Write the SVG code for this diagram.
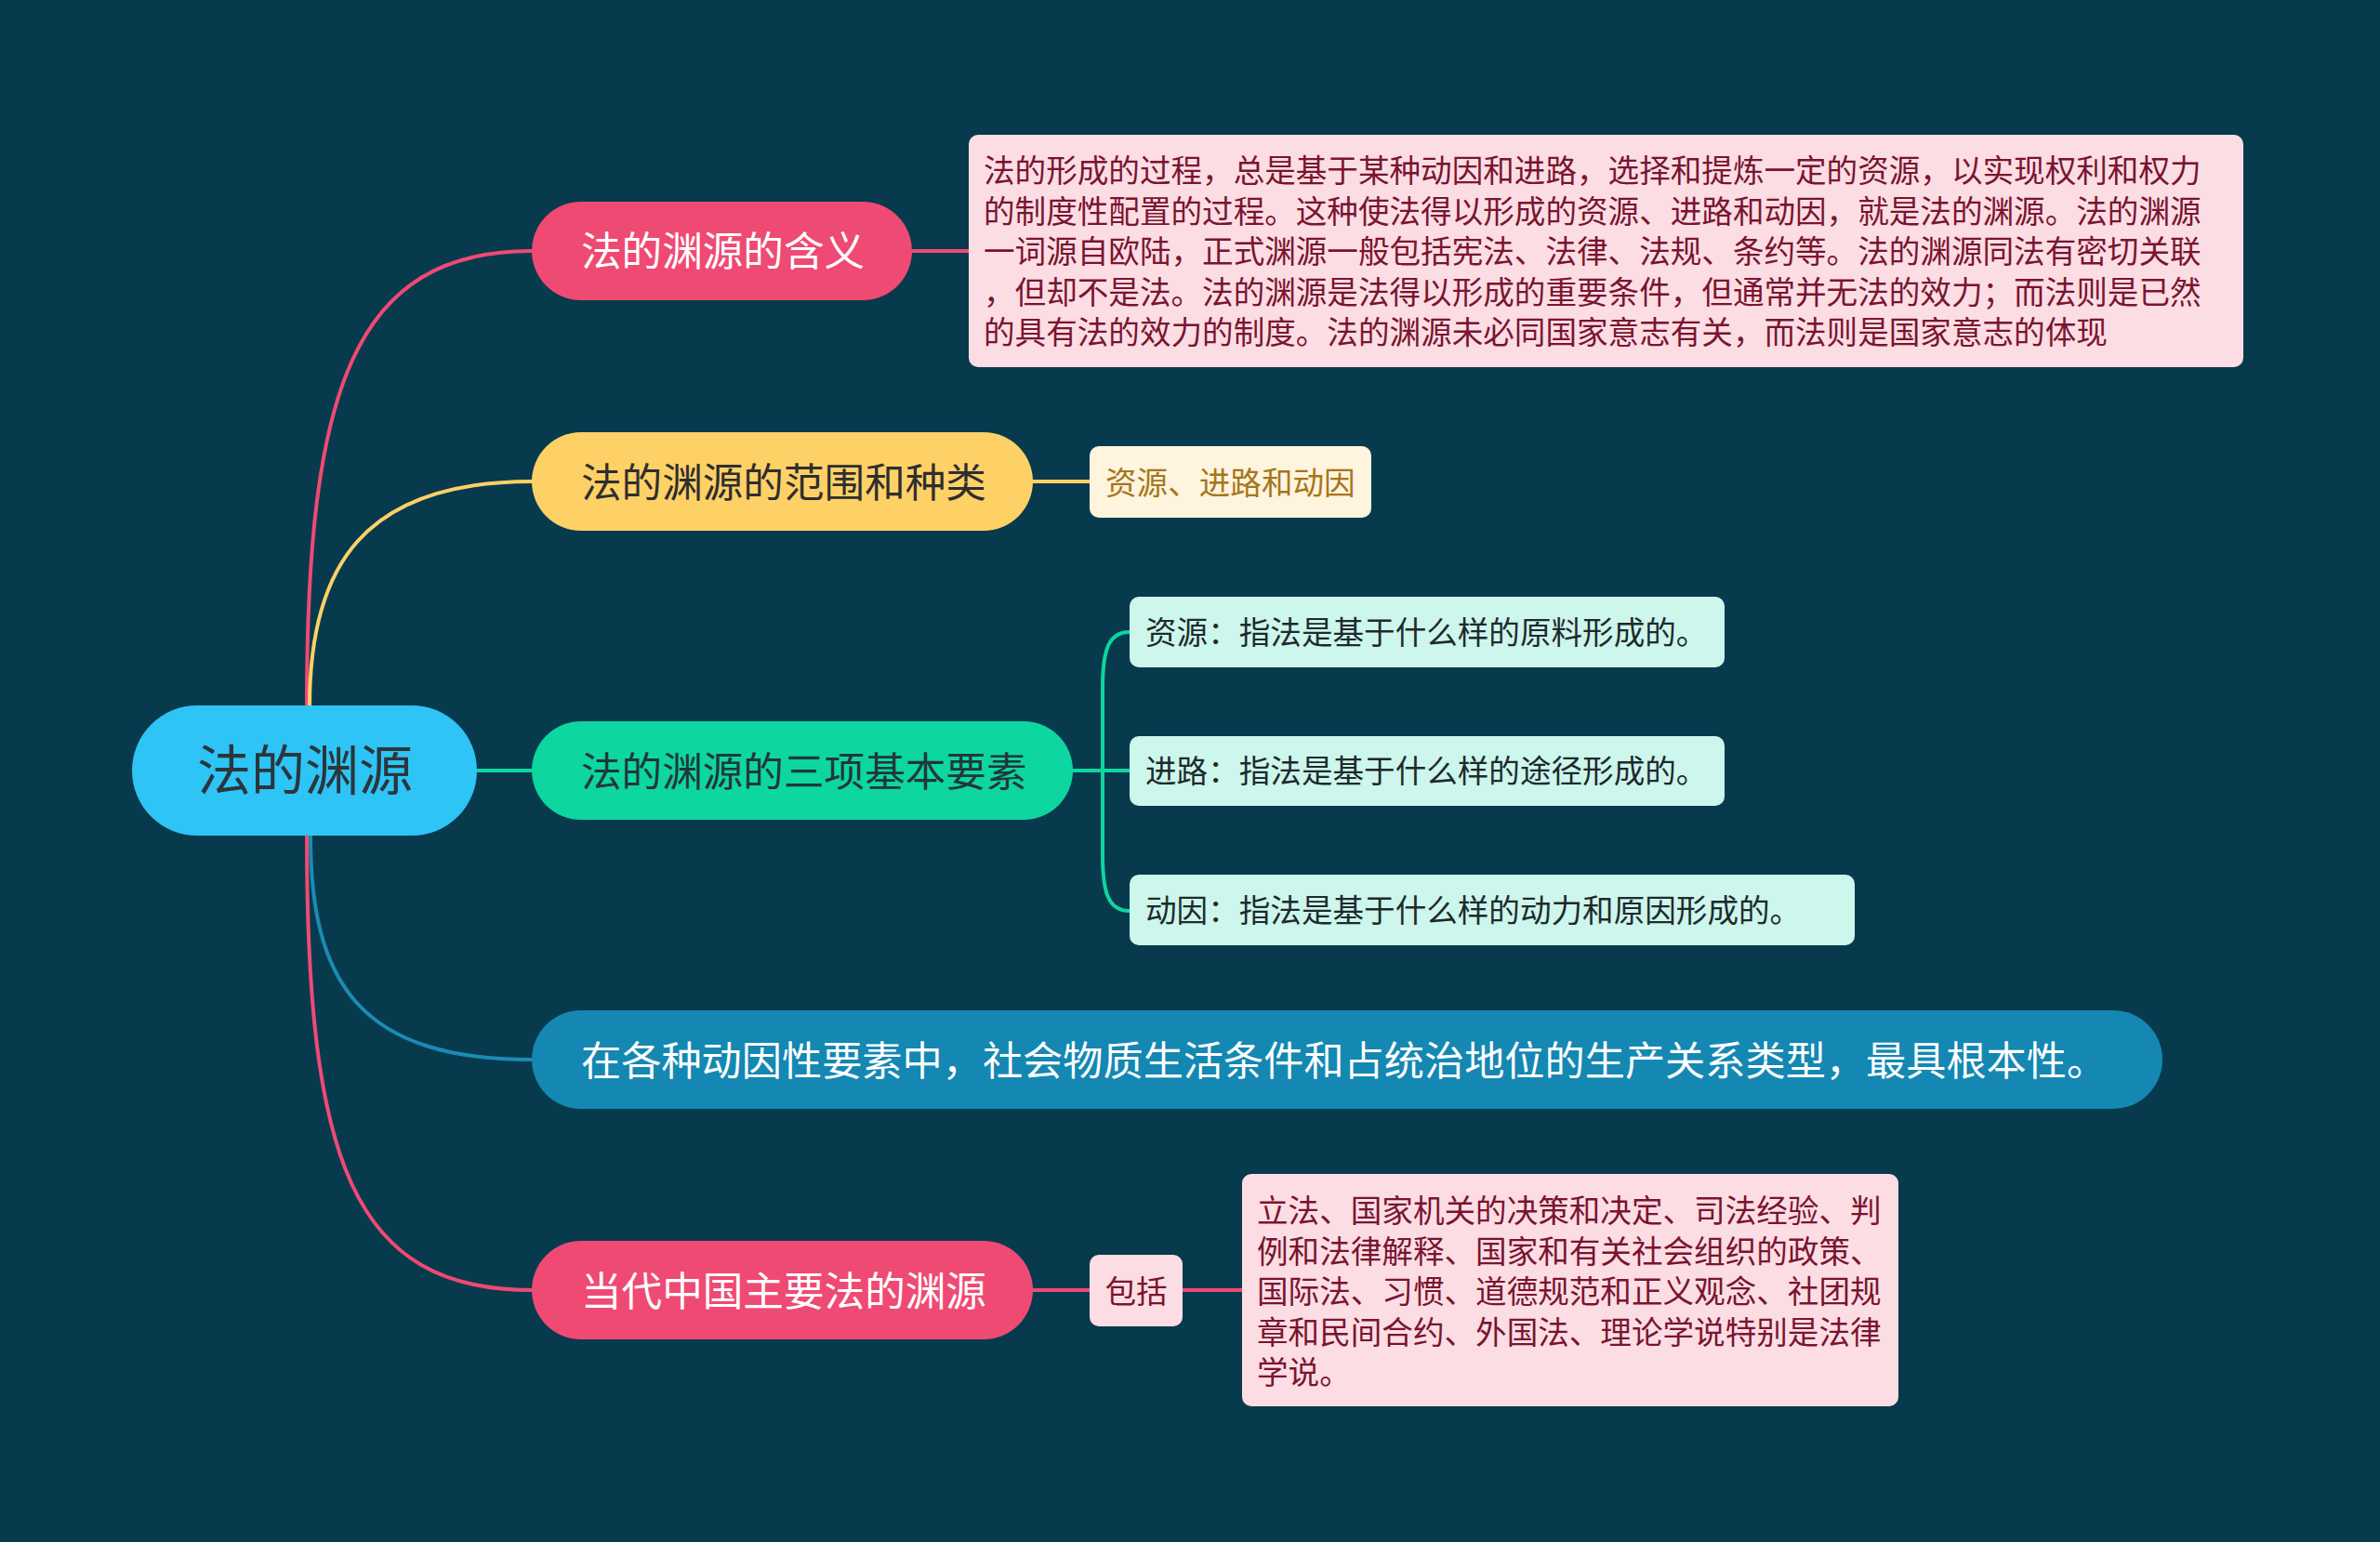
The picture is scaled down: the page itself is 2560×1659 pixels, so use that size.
<svg xmlns="http://www.w3.org/2000/svg" width="2560" height="1659" viewBox="0 0 2560 1659">
<style>
text{font-family:"Noto Sans CJK SC","Noto Sans",sans-serif;}
.conn{fill:none;stroke-width:4;stroke-linecap:round;}
.root-t{font-size:58px;fill:#2b363b;}
.br-t{font-size:43.6px;}
.d-t{font-size:33.6px;}
</style>
<rect x="0" y="0" width="2560" height="1659" fill="#083a4d"/>
<g id="connectors">
<path class="conn" stroke="#ef4a73" d="M330,829 V760 C330,420 380,270 572,270"/>
<path class="conn" stroke="#fed166" d="M333,829 V760 C333,610 390,518 572,518"/>
<path class="conn" stroke="#0dd6a0" d="M513,829 H572"/>
<path class="conn" stroke="#1b8bb3" d="M334,829 V900 C334,1060 390,1140 572,1140"/>
<path class="conn" stroke="#ef4a73" d="M330,829 V900 C330,1250 380,1388 572,1388"/>
<path class="conn" stroke="#ef4a73" d="M981,270 H1042"/>
<path class="conn" stroke="#fed166" d="M1111,518 H1172"/>
<path class="conn" stroke="#0dd6a0" d="M1154,829 H1215"/>
<path class="conn" stroke="#0dd6a0" d="M1215,680 C1192,680 1186,700 1186,740 V920 C1186,960 1192,980 1215,980"/>
<path class="conn" stroke="#ef4a73" d="M1111,1388 H1172"/>
<path class="conn" stroke="#ef4a73" d="M1272,1388 H1336"/>
</g>
<g id="root">
<rect x="142" y="759" width="371" height="140" rx="70" fill="#2ec4f5"/>
<text class="root-t" x="328" y="850" text-anchor="middle">法的渊源</text>
</g>
<g id="b1">
<rect x="572" y="217" width="409" height="106" rx="53" fill="#ef4a73"/>
<text class="br-t" x="625" y="286" fill="#ffffff">法的渊源的含义</text>
</g>
<g id="d1">
<rect x="1042" y="145" width="1371" height="250" rx="10" fill="#fcdde3"/>
<g class="d-t" fill="#7a1430">
<text x="1058" y="196">法的形成的过程，总是基于某种动因和进路，选择和提炼一定的资源，以实现权利和权力</text>
<text x="1058" y="239.5">的制度性配置的过程。这种使法得以形成的资源、进路和动因，就是法的渊源。法的渊源</text>
<text x="1058" y="283">一词源自欧陆，正式渊源一般包括宪法、法律、法规、条约等。法的渊源同法有密切关联</text>
<text x="1058" y="326.5">，但却不是法。法的渊源是法得以形成的重要条件，但通常并无法的效力；而法则是已然</text>
<text x="1058" y="370">的具有法的效力的制度。法的渊源未必同国家意志有关，而法则是国家意志的体现</text>
</g>
</g>
<g id="b2">
<rect x="572" y="465" width="539" height="106" rx="53" fill="#fed166"/>
<text class="br-t" x="625" y="535" fill="#2e2e2e">法的渊源的范围和种类</text>
</g>
<g id="d2">
<rect x="1172" y="480" width="303" height="77" rx="10" fill="#fff4dd"/>
<text class="d-t" x="1189" y="531.5" fill="#a6761c">资源、进路和动因</text>
</g>
<g id="b3">
<rect x="572" y="776" width="582" height="106" rx="53" fill="#0dd6a0"/>
<text class="br-t" x="625" y="846" fill="#22363a">法的渊源的三项基本要素</text>
</g>
<g id="c1">
<rect x="1215" y="642" width="640" height="76" rx="10" fill="#cdf6ec"/>
<text class="d-t" x="1232" y="693" fill="#1e2a2c">资源：指法是基于什么样的原料形成的。</text>
</g>
<g id="c2">
<rect x="1215" y="792" width="640" height="75" rx="10" fill="#cdf6ec"/>
<text class="d-t" x="1232" y="842" fill="#1e2a2c">进路：指法是基于什么样的途径形成的。</text>
</g>
<g id="c3">
<rect x="1215" y="941" width="780" height="76" rx="10" fill="#cdf6ec"/>
<text class="d-t" x="1232" y="992" fill="#1e2a2c">动因：指法是基于什么样的动力和原因形成的。</text>
</g>
<g id="b4">
<rect x="572" y="1087" width="1754" height="106" rx="53" fill="#1488b2"/>
<text class="br-t" x="625" y="1157" fill="#ffffff" style="font-size:43.2px">在各种动因性要素中，社会物质生活条件和占统治地位的生产关系类型，最具根本性。</text>
</g>
<g id="b5">
<rect x="572" y="1335" width="539" height="106" rx="53" fill="#ef4a73"/>
<text class="br-t" x="625" y="1405" fill="#ffffff">当代中国主要法的渊源</text>
</g>
<g id="inc">
<rect x="1172" y="1350" width="100" height="77" rx="10" fill="#fcdde3"/>
<text class="d-t" x="1222" y="1401.5" text-anchor="middle" fill="#7a1430">包括</text>
</g>
<g id="d5">
<rect x="1336" y="1263" width="706" height="250" rx="10" fill="#fcdde3"/>
<g class="d-t" fill="#7a1430">
<text x="1352" y="1315">立法、国家机关的决策和决定、司法经验、判</text>
<text x="1352" y="1358.5">例和法律解释、国家和有关社会组织的政策、</text>
<text x="1352" y="1402">国际法、习惯、道德规范和正义观念、社团规</text>
<text x="1352" y="1445.5">章和民间合约、外国法、理论学说特别是法律</text>
<text x="1352" y="1489">学说。</text>
</g>
</g>
</svg>
